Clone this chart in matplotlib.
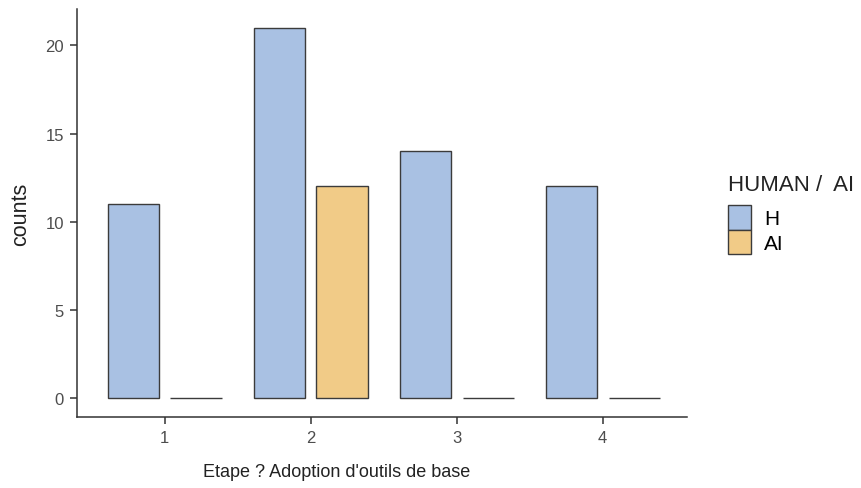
import numpy as np
import matplotlib.pyplot as plt
from matplotlib.patches import Patch

plt.rcParams['font.family'] = ['Liberation Sans', 'DejaVu Sans']

# data
stages = ['1', '2', '3', '4']
human_counts = [11, 21, 14, 12]
ai_counts = [0, 12, 0, 0]
group_labels = ['H', 'AI']

blue = '#A9C1E3'
orange = '#F1CB87'
edge = '#3b3b3b'
txt = '#4d4d4d'

fig = plt.figure(figsize=(8.61, 4.89), dpi=100)
ax = fig.add_axes([0.0894, 0.146, 0.709, 0.833])

x = np.arange(1, len(stages) + 1)
w = 0.35
off = 0.215
ax.bar(x - off, human_counts, width=w, color=blue, edgecolor=edge, linewidth=1.0)
ax.bar(x + off, ai_counts, width=w, color=orange, edgecolor=edge, linewidth=1.0)

ax.set_xlim(0.4, 4.58)
ax.set_ylim(-1.05, 22.05)
ax.set_xticks(x)
ax.set_xticklabels(stages)
ax.set_yticks([0, 5, 10, 15, 20])

for s in ['top', 'right']:
    ax.spines[s].set_visible(False)
for s in ['left', 'bottom']:
    ax.spines[s].set_color('#333333')
    ax.spines[s].set_linewidth(1.1)
ax.tick_params(axis='both', colors='#333333', labelcolor=txt, labelsize=12,
               length=5, width=1.1, pad=4.5)

ax.set_xlabel("Etape ? Adoption d'outils de base", fontsize=13, color='#222222')
ax.xaxis.set_label_coords(0.425, -0.115)
ax.set_ylabel('counts', fontsize=15.5, color='#222222', labelpad=10)

handles = [Patch(facecolor=blue, edgecolor=edge, linewidth=1.0),
           Patch(facecolor=orange, edgecolor=edge, linewidth=1.0)]
leg = fig.legend(handles, group_labels, title='HUMAN /  AI', loc='upper left',
                 bbox_to_anchor=(0.833, 0.663), frameon=False, fontsize=15,
                 title_fontsize=16, handlelength=1.1, handleheight=1.45,
                 handletextpad=0.65, labelspacing=0.0, borderpad=0.0)
leg._legend_box.align = 'left'
leg._legend_box.sep = 7
leg.get_title().set_color('#222222')

fig.savefig('out.png', dpi=100)
